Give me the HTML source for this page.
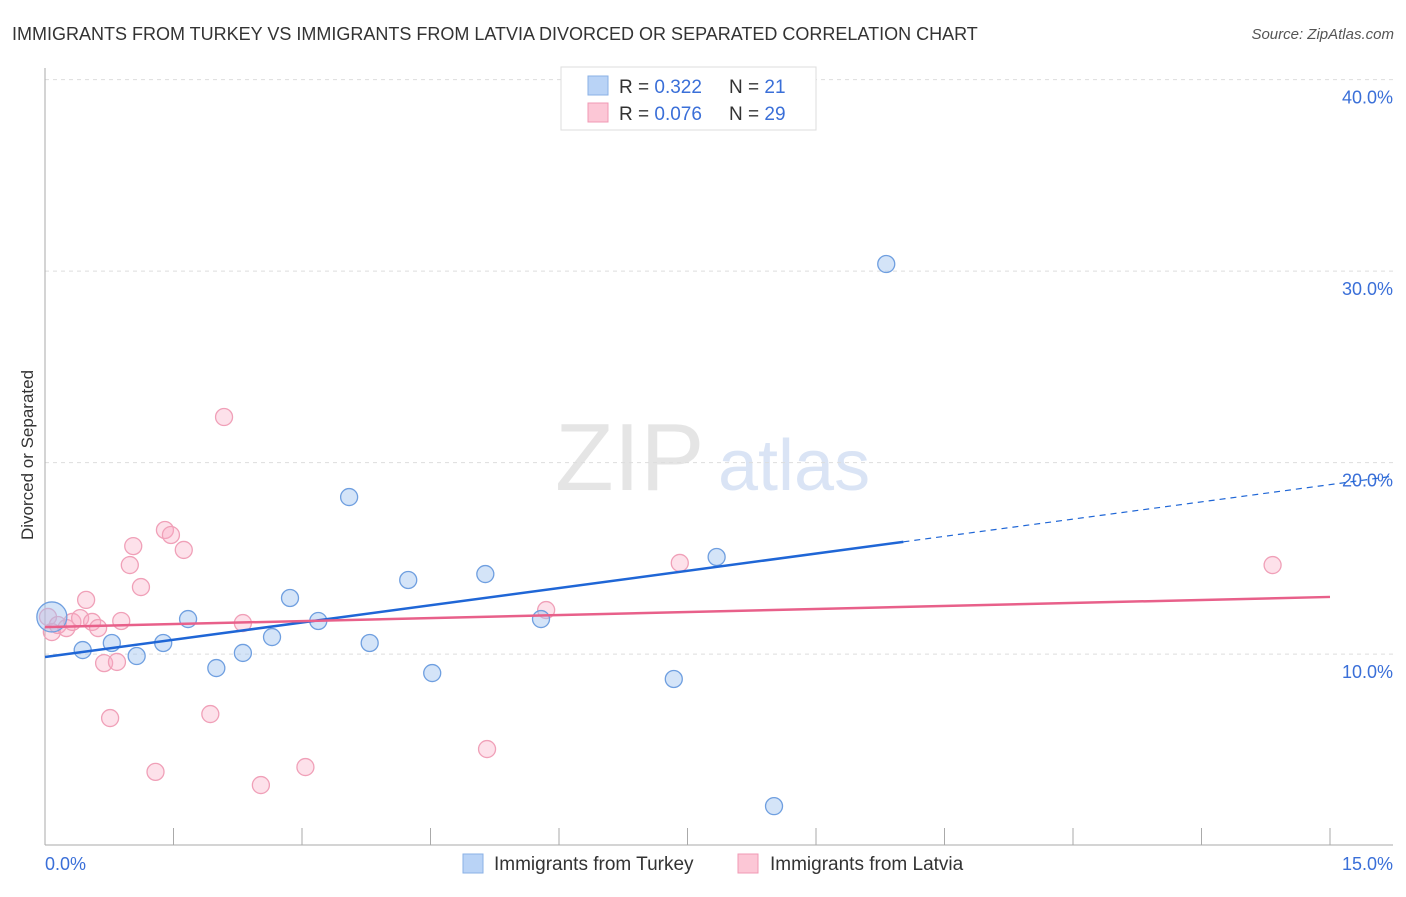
<!DOCTYPE html>
<html><head><meta charset="utf-8"><style>
body{margin:0;background:#fff;font-family:"Liberation Sans",sans-serif;}
svg text{font-family:"Liberation Sans",sans-serif;}
</style></head><body>
<svg id="chart" width="1406" height="892" xmlns="http://www.w3.org/2000/svg">
<text x="12" y="40" font-size="18" fill="#333">IMMIGRANTS FROM TURKEY VS IMMIGRANTS FROM LATVIA DIVORCED OR SEPARATED CORRELATION CHART</text>
<text x="1394" y="39" font-size="15" fill="#555" text-anchor="end" font-style="italic">Source: ZipAtlas.com</text>
<text transform="translate(33,455) rotate(-90)" font-size="17" fill="#333" text-anchor="middle">Divorced or Separated</text>
<g opacity="0.9">
<text x="555" y="490" font-size="96" fill="#e3e3e3" font-family="Liberation Serif">ZIP</text>
<text x="718" y="490" font-size="72" fill="#d6e2f5">atlas</text>
</g>
<g id="grid"></g>
<g id="axes"></g>
<g id="marks"></g>
<g>
<rect x="561" y="67" width="255" height="63" fill="#fff" stroke="#ddd"/>
<rect x="588" y="76" width="20" height="19" fill="#b9d3f6" stroke="#8ab0e6"/>
<rect x="588" y="103" width="20" height="19" fill="#fcc7d6" stroke="#f09ab4"/>
<text x="619" y="93" font-size="19" fill="#333">R = <tspan fill="#3a6fd8">0.322</tspan></text>
<text x="729" y="93" font-size="19" fill="#333">N = <tspan fill="#3a6fd8"> 21</tspan></text>
<text x="619" y="120" font-size="19" fill="#333">R = <tspan fill="#3a6fd8">0.076</tspan></text>
<text x="729" y="120" font-size="19" fill="#333">N = <tspan fill="#3a6fd8">29</tspan></text>
</g>
<g>
<rect x="463" y="854" width="20" height="19" fill="#b9d3f6" stroke="#8ab0e6"/>
<text x="494" y="870" font-size="19" fill="#333">Immigrants from Turkey</text>
<rect x="738" y="854" width="20" height="19" fill="#fcc7d6" stroke="#f09ab4"/>
<text x="770" y="870" font-size="19" fill="#333">Immigrants from Latvia</text>
</g>
</svg>
<script>
const yTicks=[10,20,30,40];
const yTickLabels=["10.0%","20.0%","30.0%","40.0%"];
const xTicks=[0,1.5,3,4.5,6,7.5,9,10.5,12,13.5,15];
const turkeyX=[0.08,0.44,0.78,1.07,1.38,1.67,2.0,2.31,2.65,2.86,3.19,3.55,3.79,4.24,4.52,5.14,5.79,7.34,7.84,8.51,9.82];
const turkeyY=[11.94,10.21,10.58,9.9,10.58,11.83,9.27,10.06,10.89,12.93,11.73,18.2,10.58,13.87,9.01,14.18,11.83,8.7,15.07,2.06,30.37];
const latviaX=[0.035,0.08,0.15,0.25,0.32,0.41,0.48,0.55,0.62,0.69,0.76,0.84,0.89,0.99,1.03,1.12,1.29,1.4,1.47,1.62,1.93,2.09,2.31,2.52,3.04,5.16,5.85,7.41,14.33];
const latviaY=[11.94,11.15,11.52,11.36,11.68,11.88,12.83,11.68,11.36,9.53,6.66,9.59,11.73,14.65,15.64,13.5,3.85,16.48,16.22,15.44,6.87,22.38,11.62,3.16,4.1,5.04,12.3,14.76,14.65];
const turkeyTrend=[9.85,0.6];
const latviaTrend=[11.41,0.105];
const NS="http://www.w3.org/2000/svg";
const sx=v=>45+v/15*1285;
const sy=v=>845.6-v*19.15;
function mk(tag,attrs,parent){const e=document.createElementNS(NS,tag);for(const k in attrs)e.setAttribute(k,attrs[k]);document.getElementById(parent).appendChild(e);return e;}
yTicks.forEach((t,i)=>{
 const g=mk('line',{x1:45,x2:1393,y1:sy(t),y2:sy(t),stroke:'#ddd','stroke-dasharray':'4,4'},'grid');
 
 
 const l=mk('text',{x:1393,y:sy(t)+24,'font-size':18,fill:'#3a6fd8','text-anchor':'end'},'grid');
 l.textContent=yTickLabels[i];
 
 
});
const ax=mk('line',{x1:45,x2:1393,y1:845,y2:845,stroke:'#aaa'},'axes');


const ay=mk('line',{x1:45,x2:45,y1:68,y2:845,stroke:'#aaa'},'axes');


xTicks.forEach(t=>{
 const e=mk('line',{x1:sx(t),x2:sx(t),y1:828,y2:845,stroke:'#aaa'},'axes');
 
 
});
const x0=mk('text',{x:45,y:870,'font-size':18,fill:'#3a6fd8'},'axes');x0.textContent='0.0%';


const x1=mk('text',{x:1393,y:870,'font-size':18,fill:'#3a6fd8','text-anchor':'end'},'axes');x1.textContent='15.0%';


function pts(xs,ys,fill,stroke,name){xs.forEach((x,i)=>{
 const c=mk('circle',{cx:sx(x),cy:sy(ys[i]),r:(i===0&&name==='turkey-point')?15:8.5,fill:fill,stroke:stroke,'stroke-width':1.3},'marks');
 
 
});}
pts(latviaX,latviaY,'rgba(248,170,195,0.35)','#f0a0b8','latvia-point');
pts(turkeyX,turkeyY,'rgba(160,195,240,0.45)','#6f9fe0','turkey-point');
const tl=mk('line',{x1:sx(0),y1:sy(turkeyTrend[0]),x2:sx(10.02),y2:sy(turkeyTrend[0]+turkeyTrend[1]*10.02),stroke:'#1f66d6','stroke-width':2.5},'marks');


const td=mk('line',{x1:sx(10.02),y1:sy(turkeyTrend[0]+turkeyTrend[1]*10.02),x2:sx(15.74),y2:sy(turkeyTrend[0]+turkeyTrend[1]*15.74),stroke:'#1f66d6','stroke-width':1.2,'stroke-dasharray':'6,5'},'marks');


const ll=mk('line',{x1:sx(0),y1:sy(latviaTrend[0]),x2:sx(15),y2:sy(latviaTrend[0]+latviaTrend[1]*15),stroke:'#e8608a','stroke-width':2.5},'marks');


</script>
</body></html>
